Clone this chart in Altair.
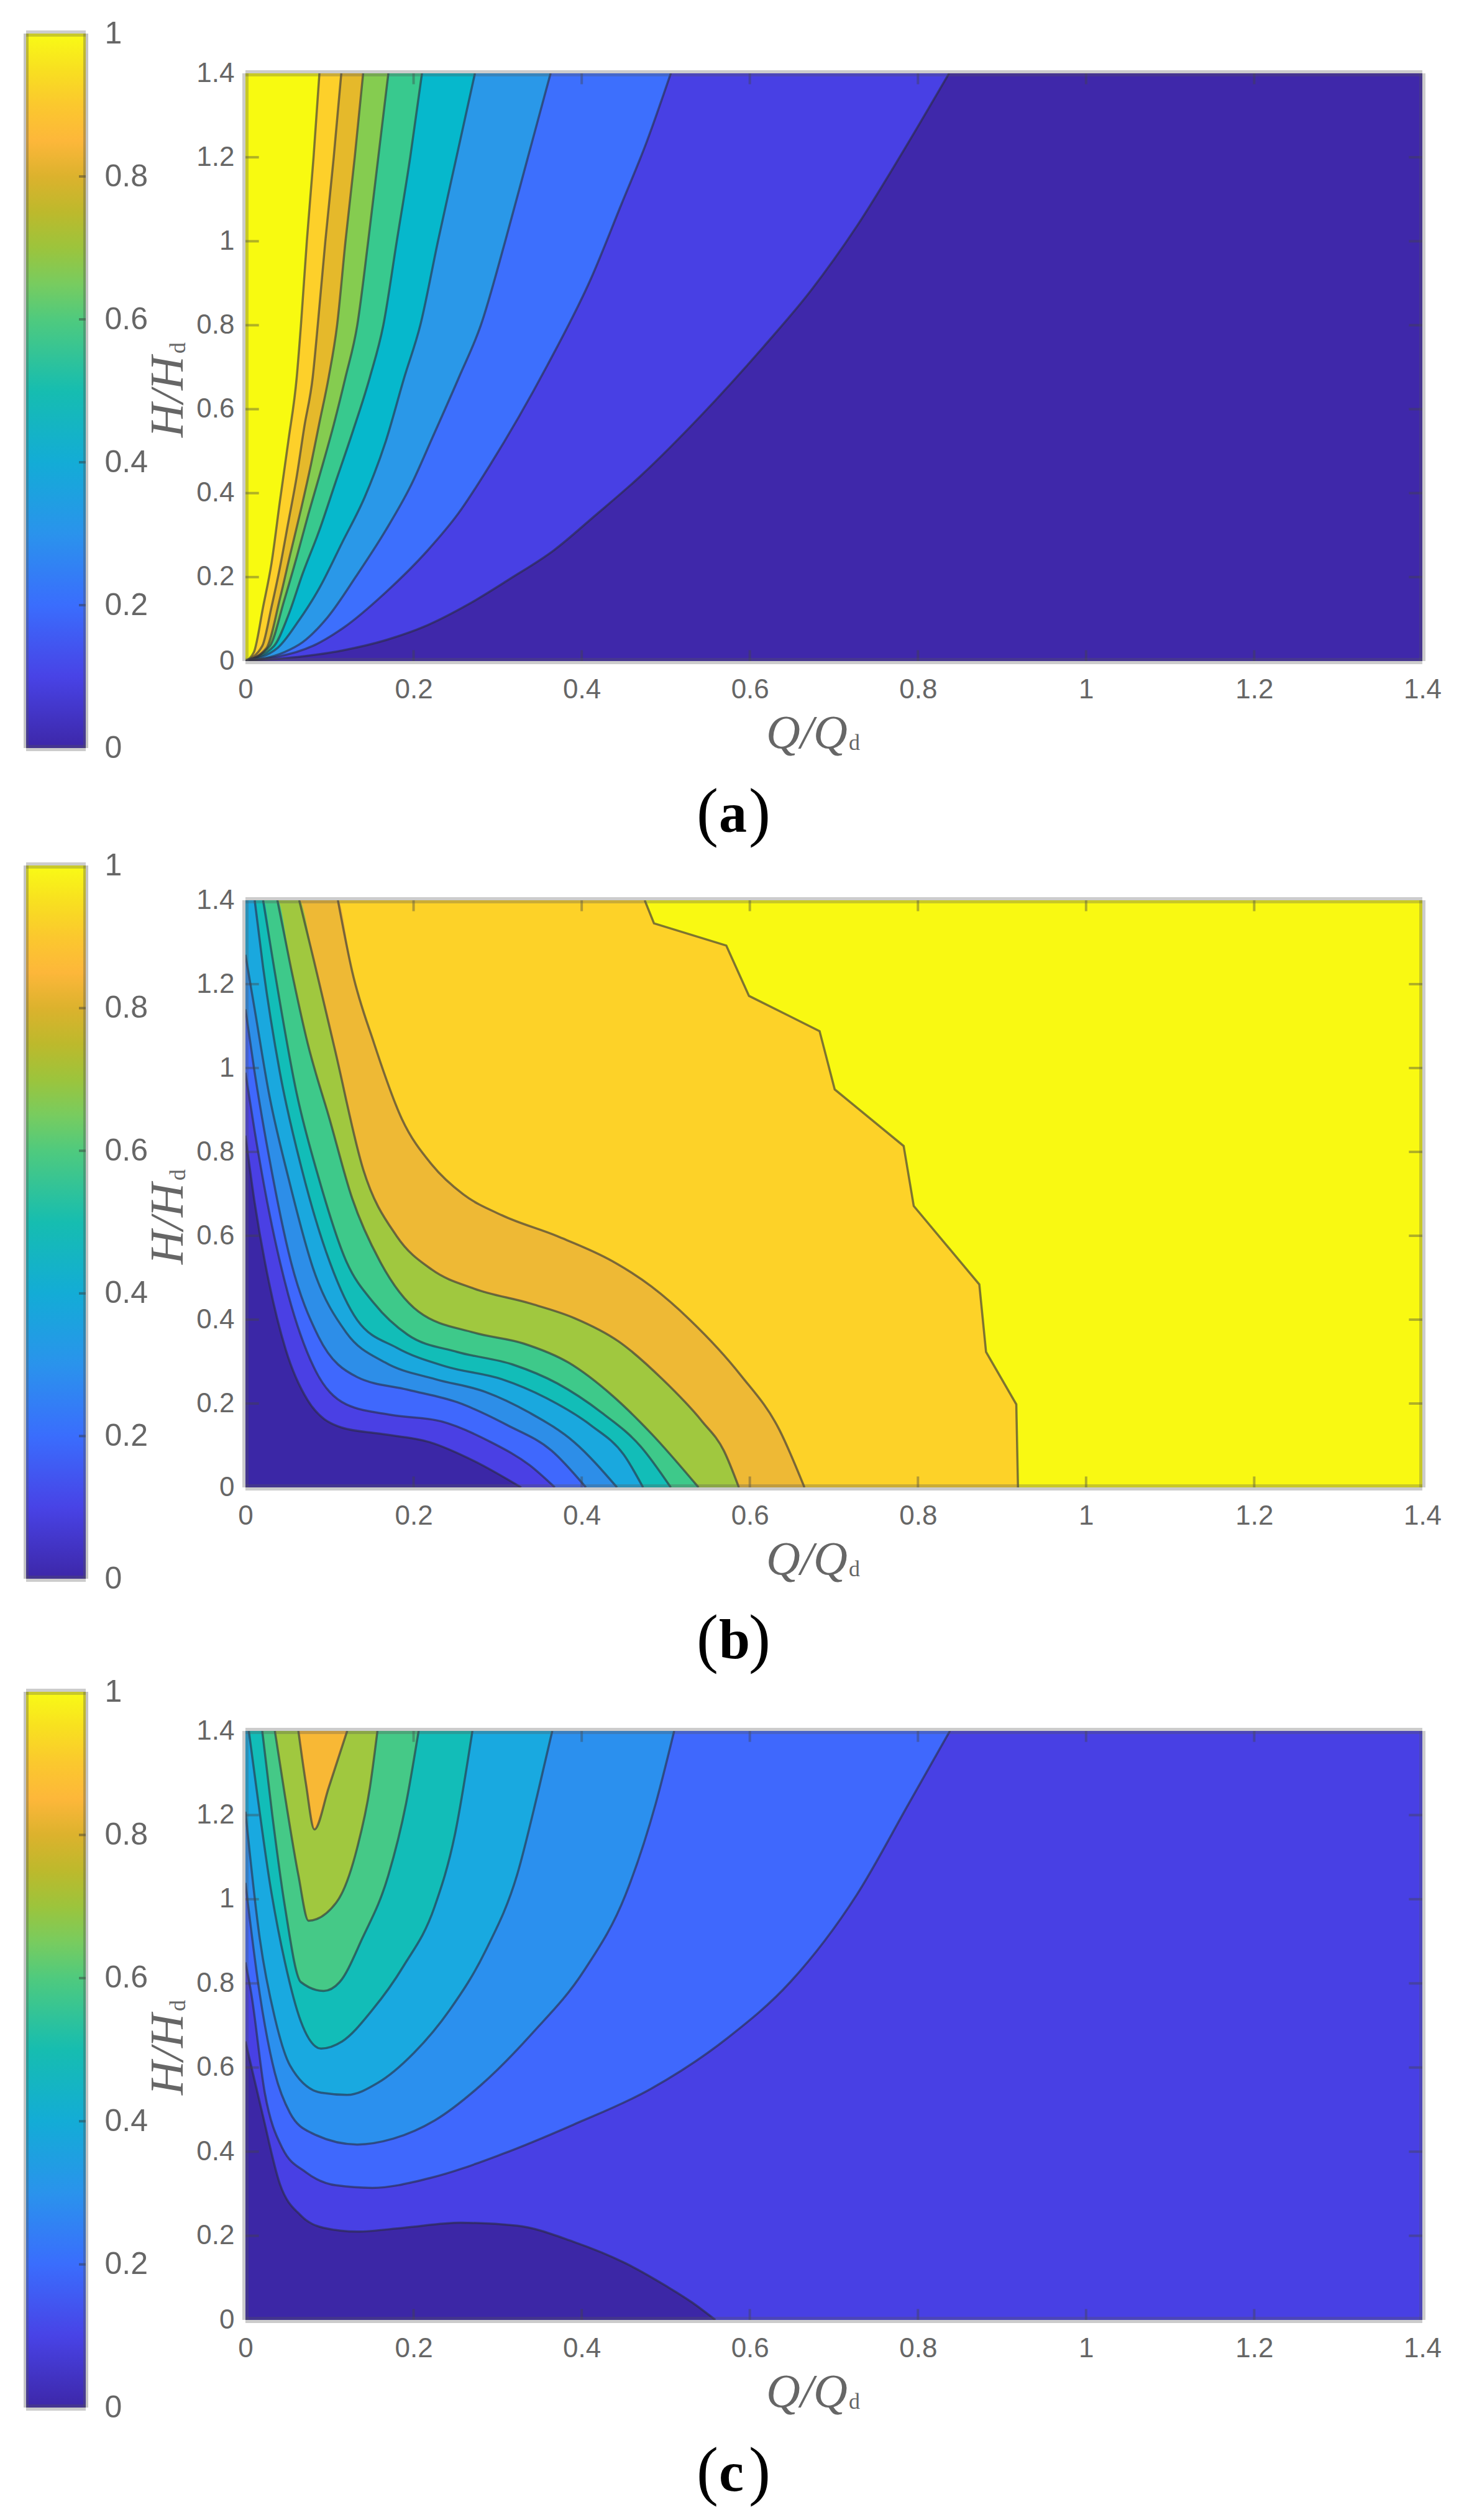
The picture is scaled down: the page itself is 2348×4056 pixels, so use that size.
import altair as alt
import pandas as pd

# ---------- read values: (Q/Qd, H/Hd) along each contour ----------
A_LINES = [
 [(0,0),(.068,.011),(.117,.026),(.167,.05),(.216,.085),(.265,.135),(.314,.195),(.367,.264),(.415,.345),(.469,.439),(.543,.587),(.616,.748),(.672,.881),(.727,1.035),(.782,1.213),(.837,1.4)],
 [(0,0),(.08,.036),(.117,.08),(.167,.164),(.216,.262),(.253,.351),(.29,.464),(.359,.704),(.411,.911),(.447,1.087),(.477,1.235),(.506,1.4)],
 [(0,0),(.046,.021),(.068,.045),(.098,.105),(.132,.203),(.167,.312),(.196,.415),(.223,.535),(.254,.676),(.28,.8),(.309,1.0),(.336,1.2),(.363,1.4)],
 [(0,0),(.038,.031),(.063,.095),(.088,.174),(.115,.282),(.142,.391),(.167,.524),(.189,.676),(.208,.8),(.229,1.0),(.251,1.2),(.273,1.4)],
 [(0,0),(.034,.036),(.051,.109),(.068,.208),(.088,.312),(.107,.425),(.127,.543),(.148,.676),(.164,.8),(.18,1.0),(.196,1.2),(.21,1.4)],
 [(0,0),(.029,.036),(.046,.144),(.061,.248),(.075,.351),(.09,.455),(.105,.563),(.119,.676),(.133,.8),(.146,1.0),(.158,1.2),(.17,1.4)],
 [(0,0),(.025,.031),(.041,.149),(.053,.252),(.066,.361),(.078,.469),(.088,.568),(.099,.676),(.109,.8),(.119,1.0),(.13,1.2),(.14,1.4)],
 [(0,0),(.02,.036),(.031,.129),(.041,.223),(.051,.331),(.061,.44),(.07,.558),(.08,.676),(.086,.8),(.095,1.0),(.105,1.2),(.114,1.4)],
 [(0,0),(.01,.021),(.021,.129),(.031,.233),(.041,.381),(.051,.524),(.061,.676),(.066,.8),(.073,1.0),(.081,1.2),(.088,1.4)],
]
A_COLORS = ["#3f28aa","#4840e4","#3d6ffd","#2a98e8","#06b8cc","#38c98e","#85cc50","#e5b92b","#fdd02a","#f8fa10"]

B_LINES = [
 [(.475,1.4),(.486,1.345),(.572,1.292),(.599,1.172),(.683,1.088),(.701,.949),(.783,.814),(.795,.671),(.873,.484),(.881,.323),(.917,.198),(.919,0)],
 [(.11,1.4),(.127,1.23),(.153,1.059),(.186,.879),(.222,.769),(.259,.699),(.305,.649),(.371,.599),(.437,.539),(.483,.479),(.529,.399),(.589,.268),(.635,.138),(.665,0)],
 [(.064,1.4),(.081,1.26),(.107,1.039),(.14,.759),(.18,.599),(.222,.519),(.272,.474),(.338,.439),(.391,.404),(.444,.348),(.496,.258),(.543,.158),(.569,.088),(.587,0)],
 [(.038,1.4),(.054,1.24),(.074,1.059),(.1,.879),(.127,.689),(.16,.539),(.206,.419),(.272,.369),(.331,.343),(.384,.298),(.437,.218),(.483,.128),(.539,0)],
 [(.021,1.4),(.034,1.24),(.061,.939),(.087,.739),(.12,.539),(.153,.439),(.193,.364),(.252,.323),(.318,.293),(.371,.248),(.424,.178),(.47,.098),(.506,0)],
 [(.011,1.4),(.021,1.24),(.041,.989),(.067,.759),(.1,.539),(.133,.399),(.18,.333),(.239,.288),(.305,.258),(.358,.213),(.411,.148),(.45,.078),(.473,0)],
 [(0,1.27),(.011,1.14),(.028,.939),(.051,.739),(.081,.519),(.12,.369),(.166,.298),(.226,.258),(.285,.228),(.338,.178),(.391,.108),(.442,0)],
 [(0,1.14),(.011,.989),(.028,.789),(.054,.539),(.087,.359),(.133,.263),(.193,.233),(.252,.203),(.312,.148),(.364,.088),(.405,0)],
 [(0,.989),(.011,.849),(.028,.659),(.051,.459),(.081,.288),(.12,.198),(.173,.173),(.232,.158),(.292,.108),(.338,.053),(.368,0)],
 [(0,.839),(.011,.679),(.028,.489),(.048,.328),(.074,.208),(.114,.143),(.16,.128),(.219,.108),(.272,.063),(.328,0)],
]
B_COLORS = ["#f9f912","#fdd228","#eeb935","#a0c83f","#3ec98a","#12bdb8","#1aa8de","#2d8ee8","#3f68fd","#4a40e4","#3b27a6"]

C_DARK = [(0,.662),(.02,.492),(.041,.323),(.066,.248),(.093,.219),(.133,.21),(.188,.219),(.256,.231),(.323,.224),(.39,.186),(.452,.135),(.501,.08),(.531,.042),(.559,0)]
C_LINES = [
 [(0,.85),(.007,.775),(.023,.54),(.044,.408),(.072,.351),(.108,.32),(.151,.314),(.219,.337),(.305,.394),(.39,.464),(.482,.549),(.574,.671),(.648,.803),(.727,1.01),(.789,1.227),(.838,1.4)],
 [(0,1.039),(.017,.775),(.035,.587),(.053,.492),(.078,.445),(.133,.417),(.176,.431),(.225,.474),(.28,.558),(.341,.681),(.403,.831),(.452,1.01),(.488,1.227),(.51,1.4)],
 [(0,1.208),(.017,.907),(.035,.718),(.053,.605),(.09,.54),(.121,.535),(.157,.563),(.2,.634),(.243,.737),(.286,.879),(.323,1.057),(.347,1.246),(.365,1.4)],
 [(.004,1.4),(.013,1.265),(.029,1.039),(.047,.85),(.066,.709),(.09,.645),(.115,.662),(.151,.737),(.188,.841),(.225,.982),(.249,1.152),(.27,1.4)],
 [(.02,1.4),(.032,1.199),(.047,.982),(.066,.803),(.093,.782),(.112,.803),(.139,.907),(.17,1.057),(.191,1.227),(.206,1.4)],
 [(.035,1.4),(.047,1.246),(.063,1.057),(.075,.949),(.108,.992),(.133,1.123),(.148,1.265),(.157,1.4)],
 [(.063,1.4),(.072,1.274),(.082,1.166),(.099,1.265),(.121,1.4)],
]
C_BASE = "#4840e4"
C_DARK_COLOR = "#3c27a6"
C_COLORS = ["#3f68fd","#2b90ee","#19a9e0","#12bdb8","#45c987","#a0c83f","#f8b835"]

AXIS_TICKS = [0, .2, .4, .6, .8, 1, 1.2, 1.4]
BAR_TICKS = [0, .2, .4, .6, .8, 1]
BAR_STOPS = [(0,"#3d27a8"),(.1,"#4843e6"),(.2,"#3a6dfd"),(.3,"#2a93ec"),(.4,"#13acd6"),(.5,"#16bdb0"),
             (.6,"#4fca7e"),(.65,"#78cc5f"),(.7,"#9cc43c"),(.75,"#bdb92c"),(.8,"#dcb22d"),(.85,"#fdb73a"),
             (.9,"#fbc82e"),(.95,"#f8e020"),(1,"#f9fb15")]

LABEL_COLOR = "#666666"
LABEL_FONT = "Liberation Sans"
SERIF = "Liberation Serif"
PLOT_W = 1894
BAR_W = 96
ONE = pd.DataFrame({"v": [0]})

X = alt.X("q:Q", scale=alt.Scale(domain=[0, 1.4], nice=False, zero=False),
          axis=alt.Axis(values=AXIS_TICKS, title=None, domain=False, ticks=False, grid=False,
                        labelFontSize=44, labelFont=LABEL_FONT, labelColor=LABEL_COLOR, labelPadding=24,
                        labelFlush=False, labelOverlap=False, format="~g"))
Y = alt.Y("h:Q", scale=alt.Scale(domain=[0, 1.4], nice=False, zero=False),
          axis=alt.Axis(values=AXIS_TICKS, title=None, domain=False, ticks=False, grid=False,
                        labelFontSize=44, labelFont=LABEL_FONT, labelColor=LABEL_COLOR, labelPadding=18,
                        labelFlush=False, labelOverlap=False, format="~g"))


def area(points, color, base, interp="monotone"):
    df = pd.DataFrame(points, columns=["q", "h"])
    df["b"] = base
    return alt.Chart(df).mark_area(color=color, clip=True, interpolate=interp, line=False).encode(x=X, y=Y, y2="b:Q")


def contour(points, interp="monotone"):
    df = pd.DataFrame(points, columns=["q", "h"])
    return alt.Chart(df).mark_line(color="#2a2a3c", opacity=0.6, strokeWidth=3.5, clip=True,
                                   interpolate=interp).encode(x=X, y=Y)


def txt(s, x, y, size, font=SERIF, style="normal", weight="normal", color=LABEL_COLOR, angle=0):
    return alt.Chart(ONE).mark_text(text=s, font=font, fontSize=size, fontStyle=style, fontWeight=weight,
                                    color=color, align="left", baseline="alphabetic", angle=angle).encode(
        x=alt.value(x), y=alt.value(y))


def frame(height):
    rows = []
    for t in AXIS_TICKS[1:-1]:
        rows += [dict(q=t, q2=t, h=0, h2=.026), dict(q=t, q2=t, h=1.374, h2=1.4),
                 dict(q=0, q2=.016, h=t, h2=t), dict(q=1.384, q2=1.4, h=t, h2=t)]
    ticks = alt.Chart(pd.DataFrame(rows)).mark_rule(color="#444444", opacity=0.4, strokeWidth=4).encode(
        x=X, x2="q2:Q", y=Y, y2="h2:Q")
    edges = pd.DataFrame([dict(q=0, q2=0, h=0, h2=1.4), dict(q=1.4, q2=1.4, h=0, h2=1.4),
                          dict(q=0, q2=1.4, h=0, h2=0), dict(q=0, q2=1.4, h=1.4, h2=1.4)])
    box = alt.Chart(edges).mark_rule(color="#555555", opacity=0.3, strokeWidth=10).encode(
        x=X, x2="q2:Q", y=Y, y2="h2:Q")
    return [ticks, box]


def labels(letter, height):
    return [
        txt("Q/Q", 838, height + 140, 76, style="italic"),
        txt("d", 971, height + 143, 36),
        txt("H/H", -101, 586, 76, style="italic", angle=270),
        txt("d", -97, 451, 36, angle=270),
        txt("(", 726, height + 278, 105, color="#000000"),
        txt(letter, 762, height + 275, 90, weight="bold", color="#000000"),
        txt(")", 810, height + 278, 105, color="#000000"),
    ]


FULL = [(0, 1.4), (1.4, 1.4)]


def panel_a(height):
    layers = [area(FULL, A_COLORS[0], 0)]
    layers += [area(p, c, 1.4) for p, c in zip(A_LINES, A_COLORS[1:])]
    layers += [contour(p) for p in A_LINES]
    return alt.layer(*layers, *frame(height), *labels("a", height)).properties(width=PLOT_W, height=height)


def panel_b(height):
    layers = [area(FULL, B_COLORS[0], 0)]
    for i, (p, c) in enumerate(zip(B_LINES, B_COLORS[1:])):
        pts = p if p[0][0] == 0 else [(0, 1.4)] + p
        layers.append(area(pts, c, 0, "linear" if i == 0 else "monotone"))
    for i, p in enumerate(B_LINES):
        layers.append(contour(p, "linear" if i == 0 else "monotone"))
    return alt.layer(*layers, *frame(height), *labels("b", height)).properties(width=PLOT_W, height=height)


def panel_c(height):
    layers = [area(FULL, C_BASE, 0), area(C_DARK, C_DARK_COLOR, 0)]
    layers += [area(p, c, 1.4) for p, c in zip(C_LINES, C_COLORS)]
    layers.append(contour(C_DARK))
    layers += [contour(p) for p in C_LINES]
    return alt.layer(*layers, *frame(height), *labels("c", height)).properties(width=PLOT_W, height=height)


def colorbar(height):
    grad = alt.LinearGradient(gradient="linear", x1=0, x2=0, y1=1, y2=0,
                              stops=[alt.GradientStop(offset=o, color=c) for o, c in BAR_STOPS])
    Yb = alt.Y("v0:Q", scale=alt.Scale(domain=[0, 1], nice=False),
               axis=alt.Axis(orient="right", values=BAR_TICKS, title=None, domain=False, ticks=False, grid=False,
                             labelFontSize=50, labelFont=LABEL_FONT, labelColor=LABEL_COLOR, labelPadding=30,
                             labelFlush=False, labelOverlap=False, format="~g"))
    bar = alt.Chart(pd.DataFrame({"v0": [0], "v1": [1]})).mark_rect(color=grad).encode(y=Yb, y2="v1:Q")
    tk = alt.Chart(pd.DataFrame({"v0": BAR_TICKS[1:-1]})).mark_rule(color="#333333", opacity=0.45, strokeWidth=4).encode(
        y=alt.Y("v0:Q"), x=alt.value(BAR_W - 11), x2=alt.value(BAR_W))
    edge = alt.Chart(pd.DataFrame({"v0": [0, 1]})).mark_rule(color="#555555", opacity=0.3, strokeWidth=10).encode(
        y=alt.Y("v0:Q"), x=alt.value(0), x2=alt.value(BAR_W))
    sides = [alt.Chart(ONE).mark_rule(color="#555555", opacity=0.35, strokeWidth=8).encode(
        x=alt.value(x), y=alt.value(0), y2=alt.value(height)) for x in (0, BAR_W)]
    return alt.layer(bar, tk, edge, *sides).properties(width=BAR_W, height=height)


def spacer(h):
    return alt.Chart(ONE).mark_text(text=" ", fontSize=1).encode(x=alt.value(0), y=alt.value(0)).properties(width=10, height=h)


def row(bar_h, offset, main):
    right = alt.vconcat(spacer(offset), main, spacing=0, bounds="flush")
    return alt.hconcat(colorbar(bar_h), right, spacing=257, bounds="flush")


row_a = row(1150, 64, panel_a(946))
row_b = row(1148, 56, panel_b(945))
row_c = row(1152, 63, panel_c(948))

upper = alt.vconcat(row_a, row_b, spacing=5)
chart = alt.vconcat(upper, row_c, spacing=5).properties(
    padding={"left": 29, "top": 21, "right": 5, "bottom": 5},
    background="#ffffff",
).configure_view(stroke=None)

chart.save("out.html", embed_options={"renderer": "svg", "actions": False})
